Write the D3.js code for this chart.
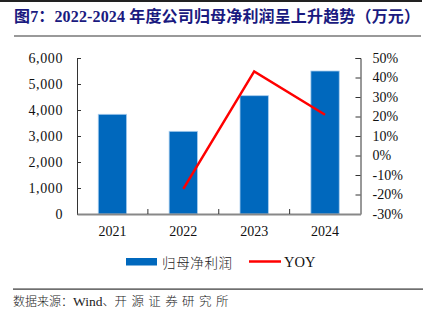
<!DOCTYPE html>
<html><head><meta charset="utf-8">
<script src="https://cdn.jsdelivr.net/npm/d3@7"></script>
<style>
html,body{margin:0;padding:0;background:#fff;}
svg{display:block;}
</style></head>
<body>
<svg id="chart" width="433" height="326"></svg>
<script>
const years = ["2021","2022","2023","2024"];
const profit = [3835, 3180, 4550, 5500];
const yoyYears = ["2022","2023","2024"];
const yoy = [-17.1, 43.1, 20.9];
const leftTicks = [0,1000,2000,3000,4000,5000,6000];
const rightTicks = [-30,-20,-10,0,10,20,30,40,50];
const title = "图7：2022-2024 年度公司归母净利润呈上升趋势（万元）";
const legendLabels = ["归母净利润","YOY"];

const svg = d3.select("#chart");
const serif = "'Liberation Serif','Times New Roman',serif";
const cjk = "'Noto Sans CJK SC',sans-serif";

// header lines & title
svg.append("rect").attr("x",0).attr("y",0).attr("width",422).attr("height",2).attr("fill","#222");
svg.append("text").attr("x",14).attr("y",22)
  .attr("font-family", serif + ",'Noto Sans CJK SC'")
  .attr("font-weight","bold").attr("font-size",16).attr("fill","#1a1a80")
  .attr("textLength",406).attr("lengthAdjust","spacing")
  .text(title);
svg.append("rect").attr("x",14).attr("y",35).attr("width",407).attr("height",2).attr("fill","#999");

const L = 77, R = 360.5, T = 58, B = 214;
const x = d3.scaleBand().domain(years).range([L,R]).padding(0);
const yL = d3.scaleLinear().domain([0,6000]).range([B,T]);
const yR = d3.scaleLinear().domain([-30,50]).range([B,T]);
const bw = x.bandwidth()*0.4;

// bars
svg.append("g").selectAll("rect").data(years).join("rect")
  .attr("x", (d)=> x(d)+x.bandwidth()/2 - bw/2)
  .attr("y", (d,i)=> yL(profit[i]))
  .attr("width", bw)
  .attr("height", (d,i)=> B - yL(profit[i]))
  .attr("fill","#0068bd")
  .attr("stroke","#a8cdee").attr("stroke-width",0.8);

// left axis
const gl = svg.append("g").attr("transform",`translate(${L},0)`)
  .call(d3.axisLeft(yL).tickValues(leftTicks).tickFormat(d3.format(",")).tickSizeInner(-4).tickSizeOuter(-4).tickPadding(14));
gl.select(".domain").attr("stroke","#333");
gl.selectAll(".tick line").attr("stroke","#333");
gl.selectAll("text").attr("font-family",serif).attr("font-size",14).attr("fill","#111").attr("letter-spacing","0.6px");

// right axis
const gr = svg.append("g").attr("transform",`translate(${R},0)`)
  .call(d3.axisRight(yR).tickValues(rightTicks).tickFormat(d=>d+"%").tickSizeInner(-5).tickSizeOuter(-5).tickPadding(12));
gr.select(".domain").attr("stroke","#333");
gr.selectAll(".tick line").attr("stroke","#333");
gr.selectAll("text").attr("font-family",serif).attr("font-size",14).attr("fill","#111");

// x axis
const gx = svg.append("g").attr("transform",`translate(0,${B})`)
  .call(d3.axisBottom(x).tickSize(0).tickPadding(12));
gx.select(".domain").attr("stroke","#888").attr("stroke-width",2);
gx.selectAll("text").attr("font-family",serif).attr("font-size",14).attr("fill","#111");
svg.append("g").selectAll("line").data(years.slice(1)).join("line")
  .attr("x1", d=>x(d)).attr("x2", d=>x(d)).attr("y1",B).attr("y2",B-5)
  .attr("stroke","#333");

// YOY line
const line = d3.line().x((d,i)=> x(yoyYears[i])+x.bandwidth()/2).y(d=>yR(d));
svg.append("path").datum(yoy).attr("d",line).attr("fill","none")
  .attr("stroke","#ff0000").attr("stroke-width",2.5);

// legend
svg.append("rect").attr("x",126).attr("y",258).attr("width",31).attr("height",7.5).attr("fill","#0068bd");
svg.append("text").attr("x",162).attr("y",262).attr("dominant-baseline","central")
  .attr("font-family",cjk).attr("font-size",13.5).attr("font-weight",300).attr("fill","#222")
  .attr("textLength",70).attr("lengthAdjust","spacing").text(legendLabels[0]);
svg.append("line").attr("x1",249).attr("x2",281).attr("y1",261.5).attr("y2",261.5)
  .attr("stroke","#ff0000").attr("stroke-width",2.5);
svg.append("text").attr("x",284).attr("y",262).attr("dominant-baseline","central")
  .attr("font-family",serif).attr("font-size",14.5).attr("fill","#111").text(legendLabels[1]);

// footer
svg.append("rect").attr("x",13).attr("y",288.5).attr("width",410).attr("height",1.2).attr("fill","#333");
const ft = svg.append("text").attr("x",13).attr("y",306).attr("font-size",12).attr("font-weight",300).attr("fill","#222");
ft.append("tspan").attr("font-family",cjk).text("数据来源：");
ft.append("tspan").attr("font-family",serif).attr("font-size",13.5).attr("font-weight",400).text("Wind");
ft.append("tspan").attr("font-family",cjk).text("、");
ft.append("tspan").attr("font-family",cjk).attr("font-size",12.5).attr("letter-spacing","4.4px").text("开源证券研究所");
</script>
</body></html>
